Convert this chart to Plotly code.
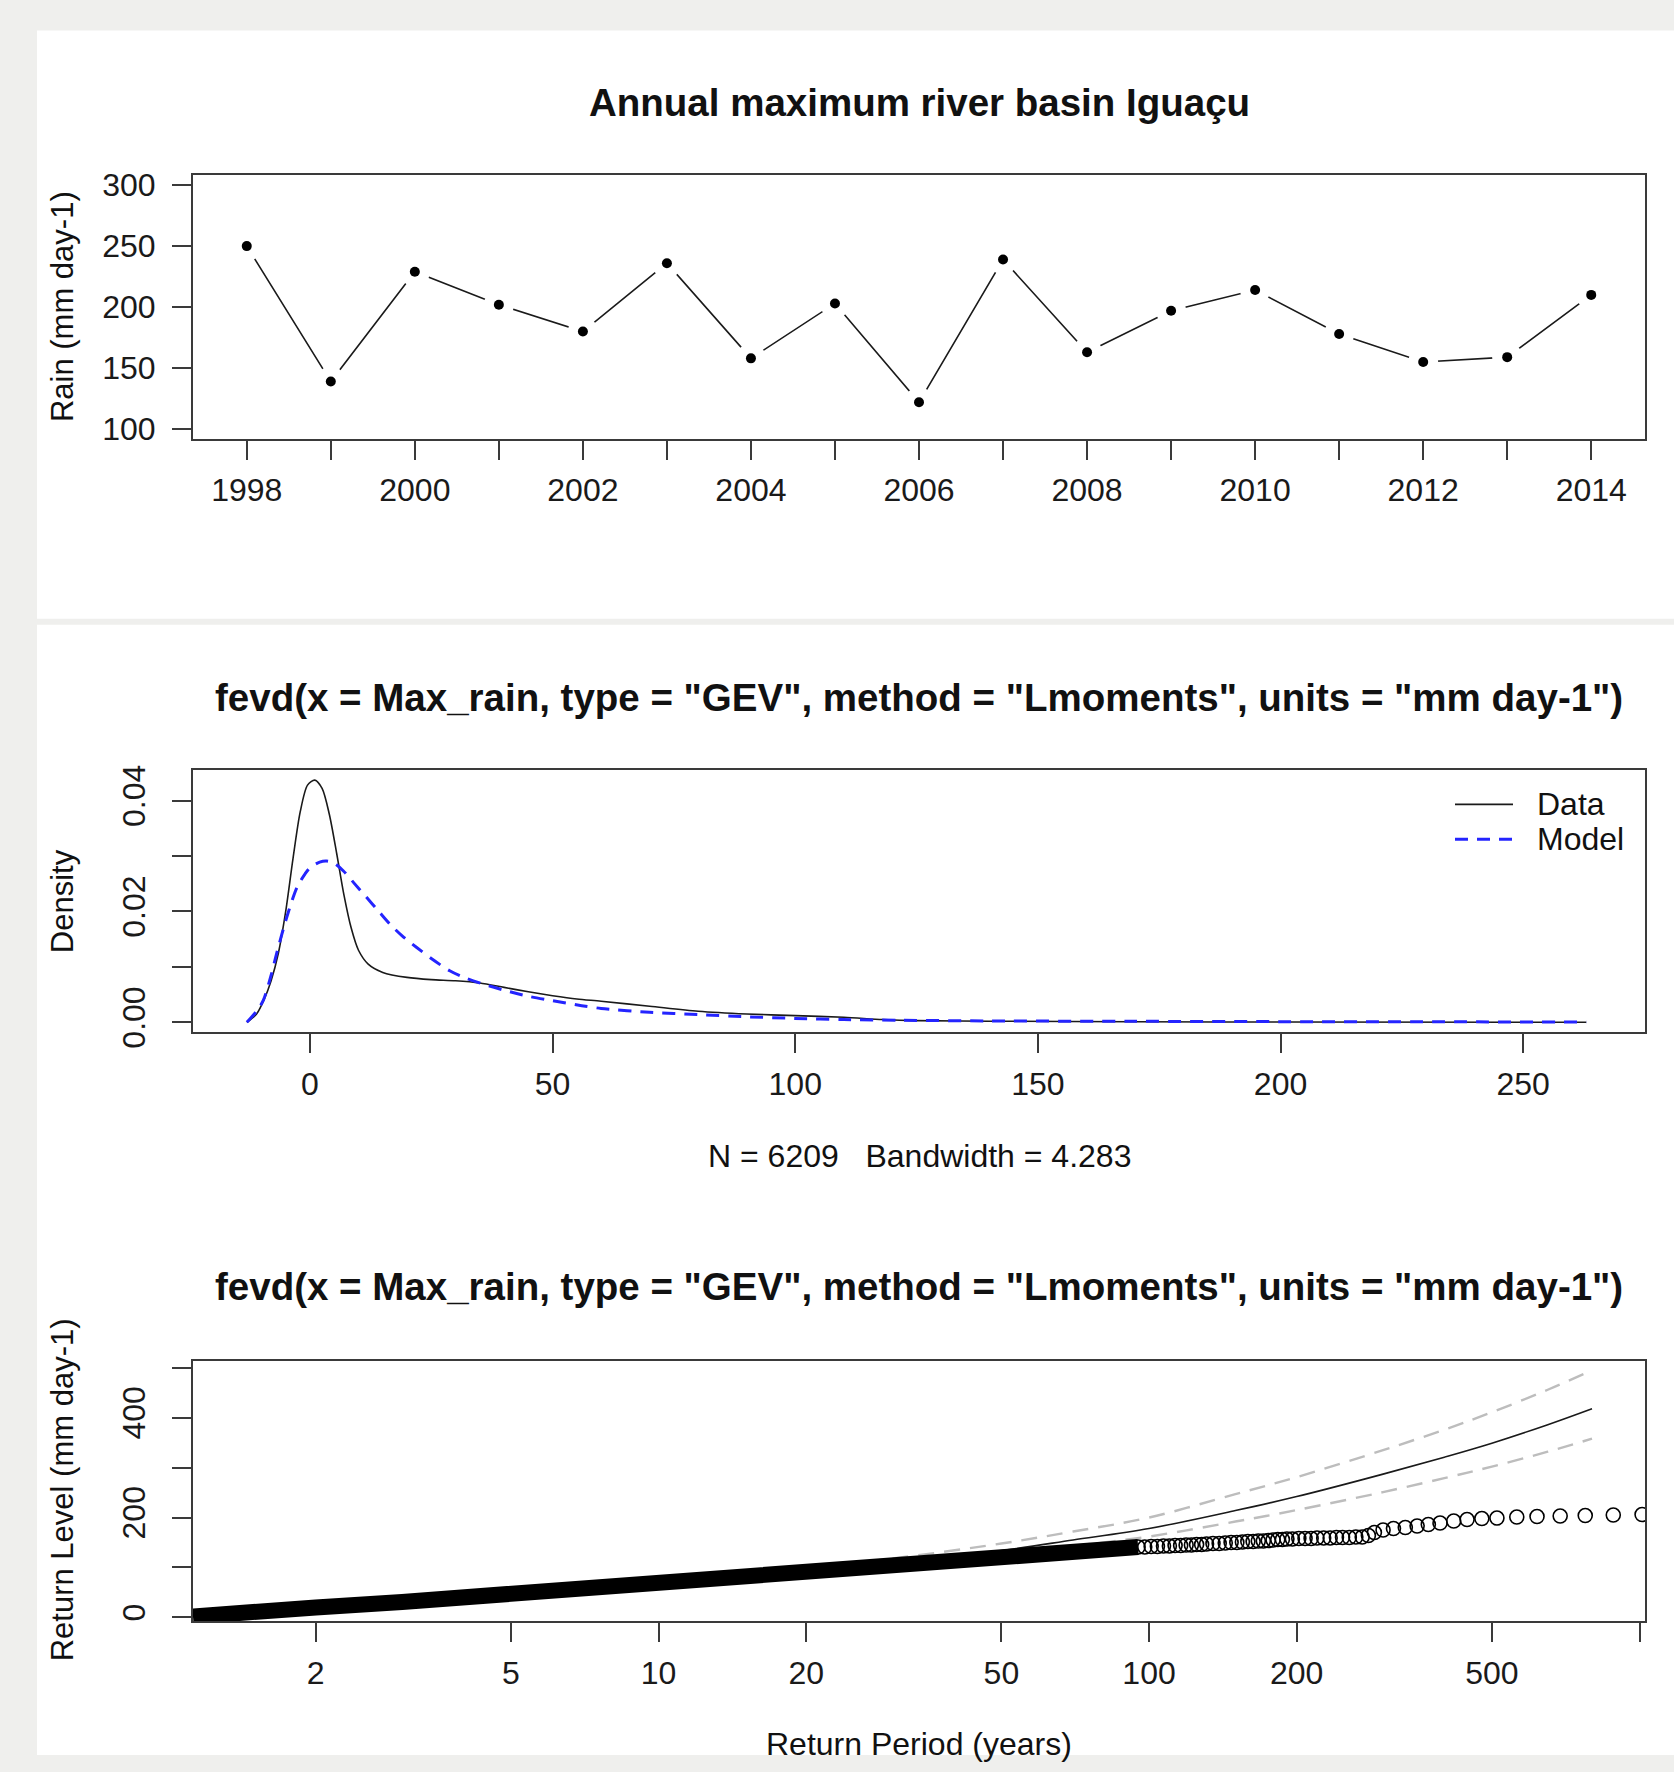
"""
Máximos anuais de chuva na bacia do Iguaçu e ajuste GEV (fevd, L-moments)
"""
import math
import plotly.graph_objects as go

W, H = 1674, 1772
FONTE = "Liberation Sans"

# Painel 1 - máximo anual de chuva (mm day-1)
anos = list(range(1998, 2015))
chuva_max = [250, 139, 229, 202, 180, 236, 158, 203, 122, 239, 163, 197, 214, 178, 155, 159, 210]

# Painel 2 - densidade: dados (kernel) e modelo GEV
dens_x_dados = [-13, -11, -9.5, -8, -6.5, -5, -3.5, -2, -0.5, 1, 2.5, 4, 5.5, 7, 8.5, 10, 12, 15,
                20, 25, 30, 35, 40, 45, 50, 55, 60, 70, 80, 90, 100, 110, 118, 125, 140, 170, 200, 263]
dens_y_dados = [0, 0.0015, 0.004, 0.0075, 0.0125, 0.020, 0.0295, 0.038, 0.0428, 0.0437, 0.0422,
                0.0375, 0.0305, 0.0230, 0.0170, 0.0130, 0.0105, 0.0090, 0.0081, 0.0077, 0.0075,
                0.0071, 0.0063, 0.0055, 0.0048, 0.0042, 0.0038, 0.0029, 0.0020, 0.0015, 0.0012,
                0.0009, 0.0005, 0.0003, 0.0002, 0.0001, 0.00005, 0]
dens_x_modelo = [-13, -11, -9.6, -8, -6.9, -4.8, -2.7, -1, 0, 2, 3.4, 5, 6.9, 9, 11.7, 14, 16.5, 19,
                 22, 25, 28.8, 32, 35.7, 40, 45, 50, 56, 60, 70, 80, 90, 100, 110, 122, 140, 170, 200, 263]
dens_y_modelo = [0, 0.002, 0.004, 0.0085, 0.0123, 0.0189, 0.0243, 0.0268, 0.0279, 0.0289, 0.0291,
                 0.0287, 0.0273, 0.0252, 0.0225, 0.0202, 0.0177, 0.0156, 0.0135, 0.0115, 0.0093,
                 0.0080, 0.0069, 0.0058, 0.0047, 0.0039, 0.0030, 0.0025, 0.0018, 0.0014, 0.0010,
                 0.0007, 0.0005, 0.00036, 0.00025, 0.00018, 0.00012, 0.00006]

# Painel 3 - nível de retorno e intervalo de confiança
rl_periodo = [1.124, 1.5, 2, 3, 5, 10, 20, 30, 50, 70, 100, 150, 200, 300, 400, 500, 650, 800]
rl_nivel = [2, 12, 22, 33, 47, 67, 92, 110, 134, 155, 178, 214, 242, 287, 321, 349, 386, 418]
rl_sup = [3, 13, 23, 35, 49, 70, 98, 118, 148, 172, 200, 247, 281, 335, 376, 411, 456, 495]
rl_inf = [1, 11, 21, 31, 45, 64, 87, 103, 126, 143, 162, 192, 215, 251, 279, 302, 332, 358]

# pontos empíricos: parte densa (milhares de círculos sobrepostos) e os círculos visíveis
emp_periodo_denso = [1.124, 1.3, 1.6, 2, 3, 5, 7, 10, 15, 20, 30, 40, 50, 60, 70, 80, 95]
emp_nivel_denso = [2, 8, 14, 20, 31, 47, 57, 67, 80, 90, 103, 110, 115, 123, 131, 137, 141]
emp_periodo = [95, 98, 101, 104, 107, 110, 113, 116, 119, 122, 125, 128, 131, 135, 139, 143, 147,
               151, 155, 159, 163, 167, 171, 175, 179, 183, 187, 191, 196, 202, 208, 214, 220, 227,
               234, 241, 248, 256, 264, 272, 280, 288, 300, 315, 333, 352, 371, 392, 418, 445, 477,
               512, 562, 618, 689, 775, 884, 1012]
emp_nivel = [141, 141, 142, 142, 143, 143, 144, 144, 145, 145, 146, 146, 147, 148, 148, 149, 150,
             150, 151, 152, 152, 153, 153, 154, 155, 156, 156, 157, 157, 158, 158, 158, 159, 159,
             159, 160, 160, 160, 161, 161, 164, 170, 175, 178, 180, 183, 186, 189, 193, 196, 198,
             199, 201, 202, 203, 204, 205, 206]

legenda_nomes = ["Data", "Model"]

# calibração vertical da captura (medida nas rodadas anteriores)
OFFSET_Y, ESCALA_Y = 5.43, 0.9874


def px(x):
    return x / W


def py(y):
    # y em pixels da imagem final -> coordenada "paper"
    return 1 - ((y - OFFSET_Y) / ESCALA_Y) / H


eixo = dict(showline=True, mirror=True, linecolor="#3a3a3a", linewidth=2,
            ticks="outside", ticklen=19, tickwidth=2, tickcolor="#3a3a3a",
            showgrid=False, zeroline=False,
            tickfont=dict(family=FONTE, size=32, color="#1a1a1a"))
dom_x = [px(193), px(1645)]

linha_dados = dict(color="#1a1a1a", width=1.6)
linha_modelo = dict(color="#2424ff", width=3, dash="13px,9px")

fig = go.Figure()

# painel 1: tipo "b" do R (linha com intervalo em volta dos pontos)
fig.add_trace(go.Scatter(x=anos, y=chuva_max, mode="lines", xaxis="x", yaxis="y",
                         line=dict(color="#1a1a1a", width=1.6)))
fig.add_trace(go.Scatter(x=anos, y=chuva_max, mode="markers", xaxis="x", yaxis="y",
                         marker=dict(size=30, color="white")))
fig.add_trace(go.Scatter(x=anos, y=chuva_max, mode="markers", xaxis="x", yaxis="y",
                         marker=dict(size=10, color="black")))

# painel 2
fig.add_trace(go.Scatter(x=dens_x_dados, y=dens_y_dados, mode="lines", name=legenda_nomes[0],
                         xaxis="x2", yaxis="y2",
                         line=dict(linha_dados, shape="spline", smoothing=0.8)))
fig.add_trace(go.Scatter(x=dens_x_modelo, y=dens_y_modelo, mode="lines", name=legenda_nomes[1],
                         xaxis="x2", yaxis="y2",
                         line=dict(linha_modelo, shape="spline", smoothing=0.8)))

# painel 3: curvas primeiro, pontos por cima
fig.add_trace(go.Scatter(x=rl_periodo, y=rl_sup, mode="lines", xaxis="x3", yaxis="y3",
                         line=dict(color="#bdbdbd", width=2.4, dash="16px,10px", shape="spline")))
fig.add_trace(go.Scatter(x=rl_periodo, y=rl_inf, mode="lines", xaxis="x3", yaxis="y3",
                         line=dict(color="#bdbdbd", width=2.4, dash="16px,10px", shape="spline")))
fig.add_trace(go.Scatter(x=rl_periodo, y=rl_nivel, mode="lines", xaxis="x3", yaxis="y3",
                         line=dict(color="#1a1a1a", width=1.6, shape="spline")))
fig.add_trace(go.Scatter(x=emp_periodo_denso, y=emp_nivel_denso, mode="lines", xaxis="x3", yaxis="y3",
                         line=dict(color="black", width=16)))
fig.add_trace(go.Scatter(x=emp_periodo, y=emp_nivel, mode="markers", xaxis="x3", yaxis="y3",
                         marker=dict(symbol="circle-open", size=14, color="black",
                                     line=dict(width=1.6, color="black"))))

# fundo cinza da janela e painéis brancos + legenda no estilo do R
shapes = [
    dict(type="rect", xref="paper", yref="paper", x0=px(37), x1=1, y0=py(617), y1=py(28),
         fillcolor="white", line=dict(width=0), layer="below"),
    dict(type="rect", xref="paper", yref="paper", x0=px(37), x1=1, y0=0, y1=py(623),
         fillcolor="white", line=dict(width=0), layer="below"),
    dict(type="line", xref="paper", yref="paper", x0=px(1455), x1=px(1513), y0=py(803), y1=py(803),
         line=linha_dados),
    dict(type="line", xref="paper", yref="paper", x0=px(1455), x1=px(1513), y0=py(838), y1=py(838),
         line=linha_modelo),
]

titulo_fevd = '<b>fevd(x = Max_rain, type = "GEV", method = "Lmoments", units = "mm day-1")</b>'
centro_x = (dom_x[0] + dom_x[1]) / 2


def texto(t, x, y, size=32, angle=0, xanchor="center"):
    return dict(text=t, x=x, y=y, xref="paper", yref="paper", xanchor=xanchor, yanchor="middle",
                showarrow=False, textangle=angle, font=dict(family=FONTE, size=size, color="#111111"))


annotations = [
    texto("<b>Annual maximum river basin Iguaçu</b>", centro_x, py(100), size=38.5),
    texto(titulo_fevd, centro_x, py(696), size=38.5),
    texto(titulo_fevd, centro_x, py(1286), size=38.5),
    texto("N = 6209\u00a0\u00a0 Bandwidth = 4.283", centro_x, py(1155)),
    texto("Return Period (years)", centro_x, py(1744)),
    texto("Rain (mm day-1)", px(62), py(305), size=31, angle=-90),
    texto("Density", px(62), py(900), size=31, angle=-90),
    texto("Return Level (mm day-1)", px(62), py(1490), size=31, angle=-90),
    texto(legenda_nomes[0], px(1535), py(803), xanchor="left"),
    texto(legenda_nomes[1], px(1535), py(838), xanchor="left"),
]

fig.update_layout(
    width=W, height=H, autosize=False, showlegend=False,
    margin=dict(l=0, r=0, t=0, b=0),
    paper_bgcolor="#efefed", plot_bgcolor="white",
    shapes=shapes, annotations=annotations,
    xaxis=dict(eixo, domain=dom_x, anchor="y", range=[1997.36, 2014.64],
               tickvals=anos, ticktext=[str(a) if a % 2 == 0 else "" for a in anos],
               ticklabelstandoff=3),
    yaxis=dict(eixo, domain=[py(437), py(173)], anchor="x", range=[92, 308],
               tickvals=[100, 150, 200, 250, 300], ticklabelstandoff=10),
    xaxis2=dict(eixo, domain=dom_x, anchor="y2", range=[-24.1, 275.1],
                tickvals=[0, 50, 100, 150, 200, 250], ticklabelstandoff=4),
    yaxis2=dict(eixo, domain=[py(1031), py(769)], anchor="x2", range=[-0.00175, 0.04545],
                tickvals=[0, 0.01, 0.02, 0.03, 0.04], ticktext=["0.00", "", "0.02", "", "0.04"],
                tickangle=-90, ticklabelstandoff=14),
    xaxis3=dict(eixo, domain=dom_x, anchor="y3", type="log",
                range=[math.log10(1.124), math.log10(1026)],
                tickvals=[2, 5, 10, 20, 50, 100, 200, 500, 1000],
                ticktext=["2", "5", "10", "20", "50", "100", "200", "500", "1000"],
                ticklabelstandoff=3),
    yaxis3=dict(eixo, domain=[py(1621), py(1360)], anchor="x3", range=[-7.4, 514.6],
                tickvals=[0, 100, 200, 300, 400, 500], ticktext=["0", "", "200", "", "400", ""],
                tickangle=-90, ticklabelstandoff=14),
)

# fixa o gráfico no canto da janela
ajuste_pagina = """
var gd = document.getElementById('{plot_id}');
gd.style.position = 'absolute'; gd.style.left = '0px'; gd.style.top = '0px';
document.documentElement.style.margin = '0'; document.body.style.margin = '0';
document.documentElement.style.overflow = 'hidden'; document.body.style.overflow = 'hidden';
document.body.style.background = '#efefed';
"""
fig.write_html("out.html", config={"displayModeBar": False}, post_script=ajuste_pagina)
